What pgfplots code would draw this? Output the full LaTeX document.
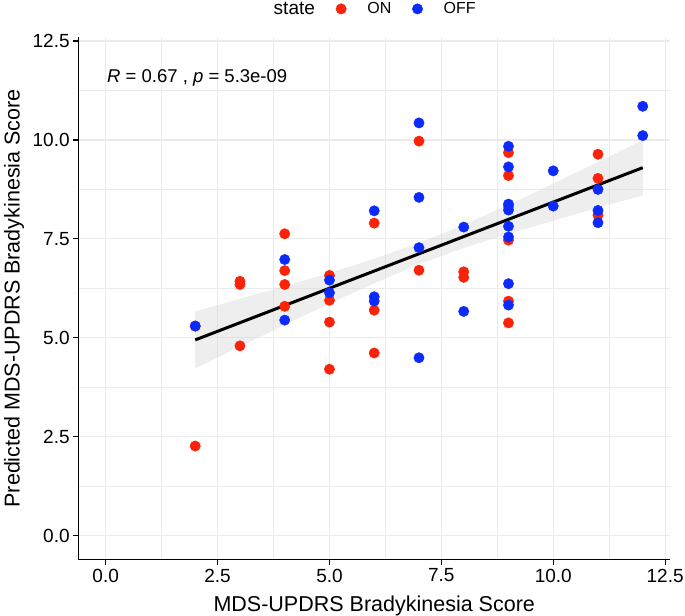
\documentclass[border=0pt]{standalone}
\usepackage{pgfplots}
\pgfplotsset{compat=1.18}
\usepackage{fontspec}
\setmainfont{Liberation Sans}
\definecolor{onred}{RGB}{250,35,8}
\definecolor{offblue}{RGB}{12,42,250}
\definecolor{grid92}{RGB}{235,235,235}
\begin{document}
\begin{tikzpicture}
\useasboundingbox (-78.85bp,-56.3bp) rectangle (606.15bp,559.7bp);
\begin{axis}[
  scale only axis, width=590.75bp, height=522.7bp,
  xmin=-0.6, xmax=12.6, ymin=-0.6, ymax=12.6,
  xtick={0,2.5,5,7.5,10,12.5}, ytick={0,2.5,5,7.5,10,12.5},
  minor xtick={1.25,3.75,6.25,8.75,11.25},
  minor ytick={1.25,3.75,6.25,8.75,11.25},
  grid=both,
  major grid style={grid92, line width=1.1bp},
  minor grid style={grid92, line width=0.8bp},
  axis lines*=left,
  axis line style={-, black, line width=1.1bp},
  tick align=outside,
  major tick length=5.7bp, minor tick length=0bp,
  every tick/.style={black, line width=1.1bp},
  tick label style={font=\fontsize{19bp}{22bp}\selectfont, black},
  /pgf/number format/fixed, /pgf/number format/fixed zerofill,
  /pgf/number format/precision=1, /pgf/number format/assume math mode=true,
  xlabel={MDS-UPDRS Bradykinesia Score},
  ylabel={Predicted MDS-UPDRS Bradykinesia Score},
  every axis x label/.style={at={(axis description cs:0.5,0)}, anchor=base, yshift=-52bp, inner sep=0pt,
    font=\fontsize{21.5bp}{25bp}\selectfont},
  every axis y label/.style={at={(axis description cs:-0.1004,0.5)}, rotate=90, anchor=base, inner sep=0pt,
    font=\fontsize{21.5bp}{25bp}\selectfont},
  legend style={at={(axis description cs:0.5,1)}, anchor=south, xshift=-6bp, yshift=21bp, draw=none, fill=none,
    inner sep=0pt, font=\fontsize{16bp}{19bp}\selectfont, nodes={inner sep=0pt},
    /tikz/every odd column/.append style={column sep=13bp}},
  legend columns=-1,
  legend image code/.code={\path (-26bp,0bp) (13bp,0bp); \draw[#1, only marks] plot coordinates {(0bp,0bp)};},
]
\addlegendimage{empty legend}\addlegendentry{\fontsize{19bp}{22bp}\selectfont state}
\addplot[color=onred, only marks, mark=*, mark size=5.2bp, mark options={draw=onred, fill=onred, line width=0.4bp}] coordinates {
(2,5.30) (2,2.27)
(3,6.43) (3,6.35) (3,4.80)
(4,7.63) (4,6.70) (4,6.35) (4,5.80)
(5,6.58) (5,5.95) (5,5.40) (5,4.21)
(6,7.90) (6,5.70) (6,4.62)
(7,9.97) (7,6.71)
(8,6.67) (8,6.53)
(9,9.68) (9,9.10) (9,8.32) (9,7.47) (9,5.93) (9,5.38)
(11,9.64) (11,9.03) (11,8.10)
};
\addlegendentry{ON}
\addplot[color=offblue, only marks, mark=*, mark size=5.2bp, mark options={draw=offblue, fill=offblue, line width=0.4bp}] coordinates {
(2,5.30)
(4,6.98) (4,5.45)
(5,6.46) (5,6.14)
(6,8.21) (6,6.04) (6,5.93)
(7,10.43) (7,8.55) (7,7.28) (7,4.50)
(8,7.80) (8,5.67)
(9,9.84) (9,9.32) (9,8.38) (9,8.23) (9,7.82) (9,7.55) (9,6.37) (9,5.83)
(10,9.22) (10,8.33)
(11,8.75) (11,8.22) (11,7.91)
(12,10.85) (12,10.11)
};
\addlegendentry{OFF}
\addplot[forget plot, draw=none, fill=black!15, fill opacity=0.45] coordinates {
(2,5.67) (3,5.99) (4,6.31) (5,6.64) (6,7.00) (7,7.40) (8,7.86) (9,8.36) (10,8.90) (11,9.44) (12,10.00)
(12,8.60) (11,8.29) (10,7.96) (9,7.63) (8,7.27) (7,6.86) (6,6.38) (5,5.87) (4,5.33) (3,4.78) (2,4.23)
};
\addplot[forget plot, black, line width=3bp] coordinates {(2,4.95) (12,9.30)};
\node[anchor=base west, inner sep=0pt, font=\fontsize{18.5bp}{22bp}\selectfont] at (axis cs:0.03,11.45) {\textit{R} = 0.67 , \textit{p} = 5.3e-09};
\end{axis}
\end{tikzpicture}
\end{document}
